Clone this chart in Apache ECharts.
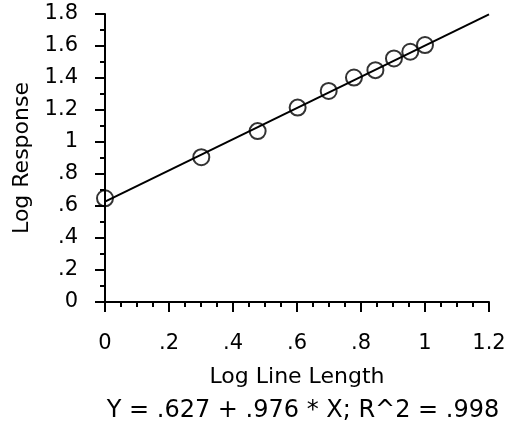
<!DOCTYPE html>
<html>
<head>
<meta charset="utf-8">
<script src="https://cdn.jsdelivr.net/npm/echarts@6/dist/echarts.min.js"></script>
<style>
  html, body { margin: 0; padding: 0; background: #fff; }
  #chart { width: 511px; height: 428px; }
</style>
</head>
<body>
<div id="chart"></div>
<script>
// Observed points: log10 of line length vs log10 of response
const logLength = [0, 0.301, 0.477, 0.602, 0.699, 0.778, 0.845, 0.903, 0.954, 1.0];
const logResponse = [0.648, 0.905, 1.068, 1.215, 1.319, 1.403, 1.449, 1.522, 1.564, 1.606];

// Least-squares fit shown under the plot
const fitIntercept = 0.627;
const fitSlope = 0.976;
const fitR2 = 0.998;
const fitRange = [0, 1.2];

const xTicks = [0, 0.2, 0.4, 0.6, 0.8, 1.0, 1.2];
const yTicks = [0, 0.2, 0.4, 0.6, 0.8, 1.0, 1.2, 1.4, 1.6, 1.8];

const FONT = 'DejaVu Sans';

// Decimal labels without a leading zero (".2", "1.2")
function trimZero(v) {
  const s = String(Math.round(v * 10) / 10);
  return s.startsWith('0.') ? s.slice(1) : s;
}
function coef(v) {
  return String(v).replace(/^0\./, '.');
}

const points = logLength.map((x, i) => [x, logResponse[i]]);
const fitLine = fitRange.map(x => [x, fitIntercept + fitSlope * x]);

const axisCommon = {
  type: 'value',
  axisLine: { show: true, onZero: false, lineStyle: { color: '#000', width: 2 } },
  axisTick: { show: true, inside: false, length: 10, lineStyle: { color: '#000', width: 2 } },
  minorTick: { show: true, length: 5, lineStyle: { color: '#000', width: 2 } },
  splitLine: { show: false },
  minorSplitLine: { show: false }
};

const chart = echarts.init(document.getElementById('chart'), null, { renderer: 'canvas' });
chart.setOption({
  animation: false,
  backgroundColor: '#fff',
  grid: { left: 105, right: 22, top: 14, bottom: 126, containLabel: false, outerBoundsMode: 'none' },
  xAxis: Object.assign({}, axisCommon, {
    min: xTicks[0],
    max: xTicks[xTicks.length - 1],
    interval: 0.2,
    minorTick: Object.assign({}, axisCommon.minorTick, { splitNumber: 4 }),
    axisLabel: { color: '#000', fontFamily: FONT, fontSize: 21, margin: 31, formatter: trimZero },
    name: 'Log Line Length',
    nameLocation: 'middle',
    nameGap: 64,
    nameTextStyle: { color: '#000', fontFamily: FONT, fontSize: 22 }
  }),
  yAxis: Object.assign({}, axisCommon, {
    min: yTicks[0],
    max: yTicks[yTicks.length - 1],
    interval: 0.2,
    minorTick: Object.assign({}, axisCommon.minorTick, { splitNumber: 2 }),
    axisLabel: { color: '#000', fontFamily: FONT, fontSize: 21, margin: 27, formatter: trimZero },
    name: 'Log Response',
    nameLocation: 'middle',
    nameGap: 66,
    nameTextStyle: { color: '#000', fontFamily: FONT, fontSize: 22 }
  }),
  graphic: [{
    type: 'text',
    x: 303,
    y: 399,
    style: {
      text: 'Y = ' + coef(fitIntercept) + ' + ' + coef(fitSlope) + ' * X; R^2 = ' + coef(fitR2),
      fill: '#000',
      font: '24px "' + FONT + '"',
      textAlign: 'center',
      textVerticalAlign: 'top'
    }
  }],
  series: [
    {
      type: 'line',
      data: fitLine,
      symbol: 'none',
      clip: false,
      lineStyle: { color: '#000', width: 2 },
      silent: true
    },
    {
      type: 'scatter',
      data: points,
      symbol: 'circle',
      symbolSize: 16,
      clip: false,
      itemStyle: { color: 'rgba(0,0,0,0)', borderColor: '#000', borderWidth: 2 }
    }
  ]
});
</script>
</body>
</html>
